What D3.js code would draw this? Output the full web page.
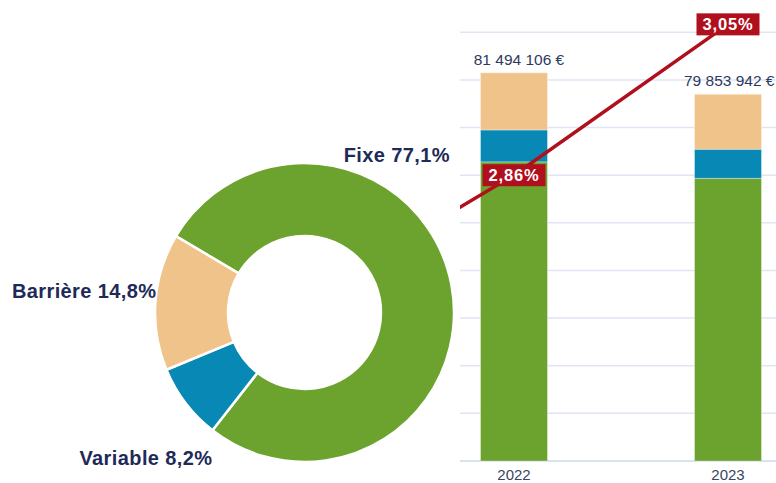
<!DOCTYPE html>
<html>
<head>
<meta charset="utf-8">
<script src="https://cdn.jsdelivr.net/npm/d3@7"></script>
<style>
  html, body { margin: 0; padding: 0; background: #ffffff; }
  svg { display: block; font-family: "Liberation Sans", Arial, sans-serif; }
</style>
</head>
<body>
<svg id="chart" width="776" height="483"></svg>
<script>
// ---------- DATA ----------
const pieCategories = ["Fixe", "Variable", "Barrière"];
const pieValues = [77.1, 8.2, 14.8];
const pieLabels = ["Fixe 77,1%", "Variable 8,2%", "Barrière 14,8%"];

const barYears = ["2022", "2023"];
const fixeValues = [62800000, 59350000];
const variableValues = [6700000, 6100000];
const barriereValues = [12000000, 11550000];
const totalLabels = ["81 494 106 €", "79 853 942 €"];

const lineYears = ["2021", "2022", "2023"];
const rateValues = [2.70, 2.86, 3.05];
const rateLabels = ["2,70%", "2,86%", "3,05%"];

const yTicks = [0, 10e6, 20e6, 30e6, 40e6, 50e6, 60e6, 70e6, 80e6, 90e6];

// ---------- STYLE ----------
const colors = { "Fixe": "#6ba32e", "Variable": "#0788b5", "Barrière": "#f0c38b" };
const navy = "#1e2a57";
const red = "#b00f1e";

const svg = d3.select("#chart");

// ---------- DONUT ----------
const cx = 304.5, cy = 312.5, rOuter = 149.5, rInner = 76.5;
const pie = d3.pie().sort(null).value(d => d.v)
  .startAngle(-59.3 * Math.PI / 180)
  .endAngle(-59.3 * Math.PI / 180 + 2 * Math.PI);
const arc = d3.arc().innerRadius(rInner).outerRadius(rOuter);
const pieData = pieCategories.map((c, i) => ({ c, v: pieValues[i], label: pieLabels[i] }));

const gPie = svg.append("g").attr("transform", `translate(${cx},${cy})`);
gPie.selectAll("path").data(pie(pieData)).enter().append("path")
  .attr("d", arc)
  .attr("fill", d => colors[d.data.c])
  .attr("stroke", "#ffffff")
  .attr("stroke-width", 2.5);

const pieLabelPos = { "Fixe": [450, 161.7], "Variable": [212.5, 465], "Barrière": [156.5, 298] };
svg.append("g").selectAll("text").data(pieData).enter().append("text")
  .attr("x", d => pieLabelPos[d.c][0])
  .attr("y", d => pieLabelPos[d.c][1])
  .attr("text-anchor", "end")
  .attr("font-size", 20)
  .attr("font-weight", "bold")
  .attr("letter-spacing", 0.4)
  .attr("fill", navy)
  .text(d => d.label);

// ---------- BAR + LINE CHART ----------
const W = 776;
const plotLeft = 460, plotRight = 776, plotTop = 32.3, plotBottom = 461;

const x = d3.scalePoint().domain(lineYears).range([300, 728]);
const yBar = d3.scaleLinear().domain([0, 90e6]).range([plotBottom, plotTop]);
const yRate = d3.scaleLinear().domain([2.5, 3.04]).range([plotBottom, plotTop]);
const barWidth = 67;

svg.append("defs").append("clipPath").attr("id", "plotClip")
  .append("rect").attr("x", plotLeft).attr("y", 0)
  .attr("width", plotRight - plotLeft).attr("height", 483);

const gPlot = svg.append("g").attr("clip-path", "url(#plotClip)");

// gridlines
gPlot.append("g").selectAll("line").data(yTicks).enter().append("line")
  .attr("x1", plotLeft).attr("x2", plotRight)
  .attr("y1", d => yBar(d)).attr("y2", d => yBar(d))
  .attr("stroke", d => d === 0 ? "#cdd7ef" : "#dfe5f5")
  .attr("stroke-width", 1.5);

// stacked bars
const barRows = barYears.map((y, i) => ({
  year: y, "Fixe": fixeValues[i], "Variable": variableValues[i], "Barrière": barriereValues[i]
}));
const stack = d3.stack().keys(["Fixe", "Variable", "Barrière"]);
const series = stack(barRows);

gPlot.append("g").selectAll("g").data(series).enter().append("g")
  .attr("fill", d => colors[d.key])
  .selectAll("rect").data(d => d).enter().append("rect")
  .attr("x", d => x(d.data.year) - barWidth / 2)
  .attr("width", barWidth)
  .attr("y", d => yBar(d[1]))
  .attr("height", d => yBar(d[0]) - yBar(d[1]))
  .attr("stroke", "rgba(255,255,255,0.35)")
  .attr("stroke-width", 1);

// total labels (kept inside the right edge)
svg.append("g").selectAll("text").data(barRows).enter().append("text")
  .attr("y", d => yBar(d["Fixe"] + d["Variable"] + d["Barrière"]) - 8)
  .attr("text-anchor", "middle")
  .attr("font-size", 15.5)
  .attr("fill", "#2d3a5e")
  .text((d, i) => totalLabels[i])
  .each(function (d) {
    const w = this.getComputedTextLength();
    const cxl = Math.min(x(d.year) + 5, W - w / 2 - 1.5);
    d3.select(this).attr("x", cxl);
  });

// x axis labels
svg.append("g").selectAll("text").data(barYears).enter().append("text")
  .attr("x", d => x(d))
  .attr("y", 480)
  .attr("text-anchor", "middle")
  .attr("font-size", 15)
  .attr("fill", "#3a4562")
  .text(d => d);

// rate line
const rateData = lineYears.map((y, i) => ({ year: y, v: rateValues[i], label: rateLabels[i] }));
gPlot.append("path")
  .datum(rateData)
  .attr("fill", "none")
  .attr("stroke", red)
  .attr("stroke-width", 3.5)
  .attr("d", d3.line().x(d => x(d.year)).y(d => yRate(d.v)));

// rate labels
const lbl = gPlot.append("g").selectAll("g").data(rateData).enter().append("g")
  .attr("transform", d => `translate(${x(d.year)},${yRate(d.v)})`);
lbl.append("rect")
  .attr("x", -31.5).attr("y", -11).attr("width", 63).attr("height", 22)
  .attr("fill", red);
lbl.append("text")
  .attr("text-anchor", "middle")
  .attr("y", 6)
  .attr("font-size", 16.5)
  .attr("font-weight", "bold")
  .attr("letter-spacing", 0.8)
  .attr("fill", "#ffffff")
  .text(d => d.label);
</script>
</body>
</html>
